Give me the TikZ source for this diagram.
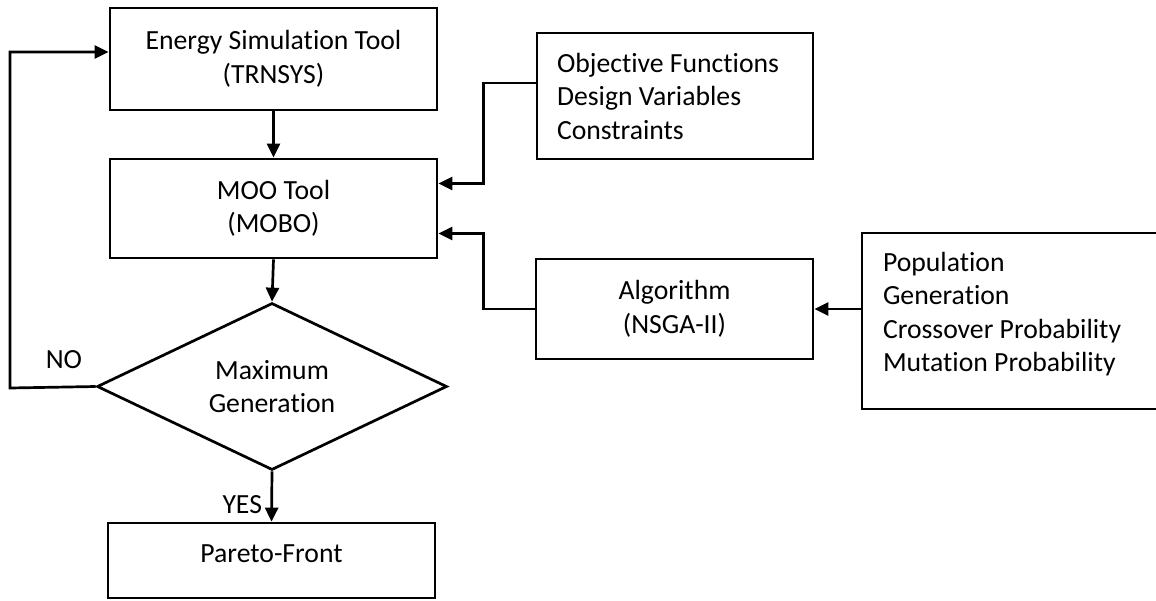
\documentclass[tikz,border=0pt]{standalone}
\usepackage{fontspec}
\setmainfont{Carlito}[Ligatures=NoCommon]
\usetikzlibrary{shapes.geometric,arrows.meta}
\begin{document}
\begin{tikzpicture}[x=1pt,y=-1pt,
        font=\fontsize{27.7pt}{33.5pt}\selectfont,
        line width=2.7pt,
        box/.style={draw, rectangle, align=center, minimum width=327pt, inner sep=0pt},
        listbox/.style={draw, rectangle, align=flush left, inner xsep=20pt, inner ysep=0pt},
        arr/.style={-{Triangle[length=14pt,width=13pt]}}]
        \useasboundingbox (0,0) rectangle (1156,600);
        \node[box, minimum height=102pt] (energy) at (273.5,59) {Energy Simulation Tool\\(TRNSYS)};
        \node[box, minimum height=99pt] (moo) at (273.5,208.5) {MOO Tool\\(MOBO)};
        \node[draw, diamond, aspect=2, align=center, inner sep=0pt, minimum width=350pt, minimum height=167pt] (decision) at (272,386.5) {Maximum\\Generation};
        \node[box, minimum height=75pt, text depth=14pt] (pareto) at (271.5,560.5) {Pareto-Front};
        \node[listbox, text width=236pt, minimum height=126pt] (obj) at (675,96) {Objective Functions\\Design Variables\\Constraints};
        \node[box, minimum width=277pt, minimum height=100pt] (algo) at (674.5,309) {Algorithm\\(NSGA-II)};
        \node[listbox, inner xsep=21pt, text width=255pt, minimum height=176pt] (pop) at (1010.5,321) {Population\\Generation\\Crossover Probability\\Mutation Probability\rule[-18pt]{0pt}{1pt}};
        \coordinate (back) at (10,388);
        \draw[arr] (energy) -- (moo);
        \draw[arr] (moo.south) -- (decision.north);
        \draw[arr] (decision.south) -- node[pos=0.66, left=5pt] {YES} (pareto.north);
        \draw[arr] (decision.west) -- node[pos=0.37, above=14pt] {NO} (back) |- ([yshift=7pt]energy.west);
        \draw[arr] ([yshift=13pt]obj.west) -- ++(-52,0) |- ([yshift=25pt]moo.east);
        \draw[arr] (algo.west) -- ++(-51,0) |- ([yshift=-25pt]moo.east);
        \draw[arr] (pop.west |- algo.east) -- (algo.east);
\end{tikzpicture}
\end{document}
